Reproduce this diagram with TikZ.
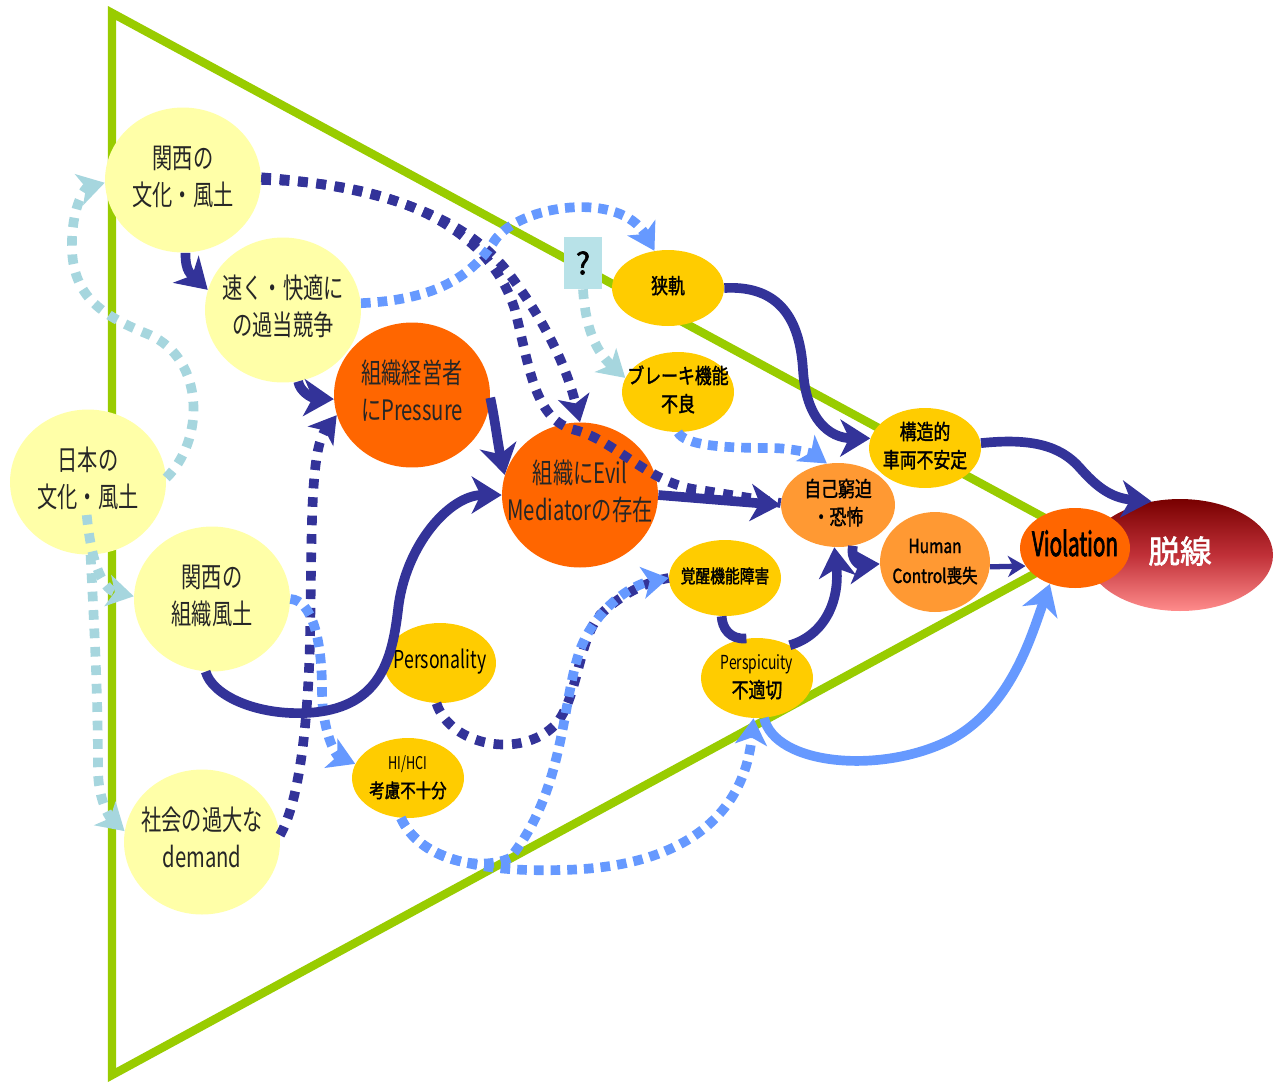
\documentclass[tikz,border=0pt]{standalone}
\usepackage{fontspec}
\usetikzlibrary{arrows.meta,shapes.geometric}
\newfontfamily\jp[FakeStretch=0.72]{Noto Sans CJK JP}
\newfontfamily\jpb[FakeStretch=0.8,FakeBold=1.6]{Noto Sans CJK JP}
\newfontfamily\jpv[FakeStretch=0.62,FakeBold=2]{Noto Sans CJK JP}
\newfontfamily\jpw[FakeBold=2]{Noto Sans CJK JP}
\newcommand\ctxt[1]{\makebox[0pt]{\begin{tabular}{@{}c@{}}#1\end{tabular}}}
\definecolor{navy}{HTML}{333399}
\definecolor{lblue}{HTML}{6699FF}
\definecolor{cyanl}{HTML}{A6D6DE}
\definecolor{tgreen}{HTML}{99CC00}
\definecolor{ylw}{HTML}{FFFFA8}
\definecolor{gold}{HTML}{FFCC00}
\definecolor{org}{HTML}{FF6600}
\definecolor{lorg}{HTML}{FF9933}
\definecolor{qcyan}{HTML}{B8E2E8}
\definecolor{dtop}{HTML}{780000}
\definecolor{dmid}{HTML}{C03038}
\definecolor{dbot}{HTML}{FF8C8C}
\begin{document}
\begin{tikzpicture}[x=0.02cm,y=-0.02cm,
  bigc/.style={ellipse,fill=ylw,minimum width=3.12cm,minimum height=2.9cm,inner sep=0pt,
    font=\jp\fontsize{16}{21}\selectfont,text=black!85},
  bigo/.style={bigc,fill=org},
  goldn/.style={ellipse,fill=gold,minimum width=2.24cm,minimum height=1.6cm,inner sep=0pt,
    font=\jpb\fontsize{12}{16}\selectfont},
  lorgn/.style={goldn,fill=lorg},
  navyarr/.style={draw=navy,line width=5.5pt,-{Stealth[length=17pt,width=21pt,inset=5pt]}},
  navyline/.style={draw=navy,line width=5.5pt},
  ndot/.style={draw=navy,line width=5.5pt,dash pattern=on 5.5pt off 5pt},
  ndotarr/.style={ndot,-{Stealth[length=15pt,width=18pt,inset=4pt]}},
  bdot/.style={draw=lblue,line width=5.5pt,dash pattern=on 5.5pt off 4pt},
  bdotarr/.style={bdot,-{Stealth[length=15pt,width=18pt,inset=4pt]}},
  cdot/.style={draw=cyanl,line width=5.5pt,dash pattern=on 5.5pt off 5pt},
  cdotarr/.style={cdot,-{Stealth[length=15pt,width=18pt,inset=4pt]}},
  bsolid/.style={draw=lblue,line width=5.5pt,-{Stealth[length=17pt,width=21pt,inset=5pt]}}
]
\useasboundingbox (0,0) rectangle (1277,1083);
\fill[white] (0,0) rectangle (1277,1083);
% triangle
\draw[tgreen,line width=4.8pt,line join=miter] (112,13) -- (112,1075) -- (1091,543) -- cycle;

% nodes
\node[bigc] (A) at (183,180) {\ctxt{関西の\\文化・風土}};
\node[bigc] (B) at (283,310) {\ctxt{速く・快適に\\の過当競争}};
\node[bigo] (C) at (412,395) {\ctxt{組織経営者\\にPressure}};
\node[bigc] (D) at (88,482) {\ctxt{日本の\\文化・風土}};
\node[bigc] (E) at (212,599) {\ctxt{関西の\\組織風土}};
\node[bigc] (F) at (202,842) {\ctxt{社会の過大な\\demand}};
\node[bigo] (G) at (580,495) {\ctxt{組織にEvil\\Mediatorの存在}};
\node[goldn,font=\jp\fontsize{14}{16}\selectfont] (H) at (440,663) {\ctxt{Personality}};
\node[goldn] (I) at (408,778) {\ctxt{{\jp\fontsize{10}{12}\selectfont HI/HCI}\\{\fontsize{11}{16}\selectfont 考慮不十分}}};
\node[goldn,minimum height=1.52cm] (J) at (668,288) {\ctxt{狭軌}};
\node[goldn] (K) at (678,392) {\ctxt{ブレーキ機能\\不良}};
\node[goldn] (L) at (925,448) {\ctxt{構造的\\車両不安定}};
\node[lorgn,minimum width=2.28cm,minimum height=1.68cm] (M) at (838,505) {\ctxt{自己窮迫\\・恐怖}};
\node[lorgn,minimum width=2.2cm,minimum height=2cm,font=\jpb\fontsize{11}{17}\selectfont] (N) at (935,562) {\ctxt{Human\\Control喪失}};
\node[goldn,minimum height=1.52cm,font=\jpb\fontsize{10.5}{14}\selectfont] (O) at (725,578) {\ctxt{覚醒機能障害}};
\node[goldn] (P) at (757,678) {\ctxt{{\jp\fontsize{11}{14}\selectfont Perspicuity}\\不適切}};
\node[ellipse,minimum width=3.72cm,minimum height=2.24cm,inner sep=0pt,
  top color=dtop,bottom color=dbot,middle color=dmid,
  font=\jpw\fontsize{18}{20}\selectfont,text=white] (R) at (1180,555) {\ctxt{脱線}};
\node[ellipse,fill=org,minimum width=2.2cm,minimum height=1.6cm,inner sep=0pt,
  font=\jpv\fontsize{19}{20}\selectfont] (Q) at (1075,548) {\ctxt{Violation}};
\node[fill=qcyan,minimum width=0.76cm,minimum height=1.04cm,inner sep=0pt,
  font=\jpw\fontsize{17}{18}\selectfont] (qb) at (583,263) {?};

% cyan dotted
\draw[cdotarr,shorten <=-0.8cm] (D.-88) .. controls (92,570) and (105,590) .. (E.178);
\draw[cdotarr] (D.-88) .. controls (95,640) and (98,700) .. (98,770) .. controls (98,800) and (110,818) .. (F.172);
\draw[cdotarr] (D.3) .. controls (205,440) and (205,360) .. (150,335) .. controls (100,315) and (70,295) .. (72,240) .. controls (73,205) and (85,188) .. (A.182);
\draw[cdotarr] (qb.south) .. controls (585,320) and (592,348) .. (K.165);

% navy dotted
\draw[ndot] (A.0) .. controls (400,182) and (490,230) .. (515,310) .. controls (530,370) and (535,420) .. (575,430) .. controls (615,440) and (650,485) .. (700,490) -- (M.178);
\draw[ndotarr] (A.2) .. controls (420,190) and (480,235) .. (510,275) .. controls (540,315) and (565,360) .. (G.90);
\draw[ndotarr] (F.5) .. controls (300,800) and (308,720) .. (310,640) .. controls (312,530) and (310,450) .. (C.195);
\draw[ndot] (H.-95) .. controls (450,745) and (520,760) .. (555,725) .. controls (578,700) and (578,640) .. (600,615) .. controls (620,595) and (645,582) .. (O.180);

% light blue dotted
\draw[bdotarr] (B.5) .. controls (430,300) and (470,280) .. (495,240) .. controls (520,205) and (620,190) .. (J.110);
\draw[bdotarr] (E.0) .. controls (312,600) and (322,640) .. (322,690) .. controls (322,730) and (335,755) .. (I.165);
\draw[bdotarr] (I.-100) .. controls (420,860) and (480,872) .. (560,870) .. controls (690,868) and (745,810) .. (P.-95);
\draw[bdotarr] (I.-100) .. controls (420,860) and (480,872) .. (510,858) .. controls (565,790) and (562,700) .. (580,650) .. controls (595,610) and (630,585) .. (O.180);
\draw[bdotarr] (K.-90) .. controls (685,445) and (720,448) .. (770,448) .. controls (795,448) and (815,455) .. (M.105);

% light blue solid
\draw[bsolid] (P.-80) .. controls (775,765) and (880,775) .. (950,740) .. controls (1010,708) and (1030,640) .. (Q.-125);

% navy solid
\draw[navyarr] (A.-88) .. controls (185,272) and (192,275) .. (B.165);
\draw[navyarr] (B.-78) .. controls (300,392) and (312,398) .. (C.183);
\draw[navyarr] (C.-2) .. controls (495,420) and (498,445) .. (G.165);
\draw[navyarr] (E.-95) .. controls (212,695) and (255,715) .. (305,713) .. controls (380,710) and (392,660) .. (398,610) .. controls (405,545) and (450,495) .. (G.180);
\draw[navyarr] (G.0) -- (M.180);
\draw[navyarr] (J.0) .. controls (780,285) and (800,320) .. (803,370) .. controls (806,420) and (830,438) .. (L.170);
\draw[navyarr] (L.5) .. controls (1030,438) and (1060,445) .. (1080,468) .. controls (1095,485) and (1110,498) .. (R.118);
\draw[navyarr] (M.-70) .. controls (850,560) and (860,565) .. (N.182);
\draw[navyarr] (P.45) .. controls (825,635) and (840,600) .. (M.-95);
\draw[navyline] (O.-95) .. controls (722,628) and (730,640) .. (P.105);
\draw[draw=navy,line width=3pt,-{Stealth[length=10pt,width=12pt,inset=3pt]}] (N.-5) -- (Q.200);
\end{tikzpicture}
\end{document}
